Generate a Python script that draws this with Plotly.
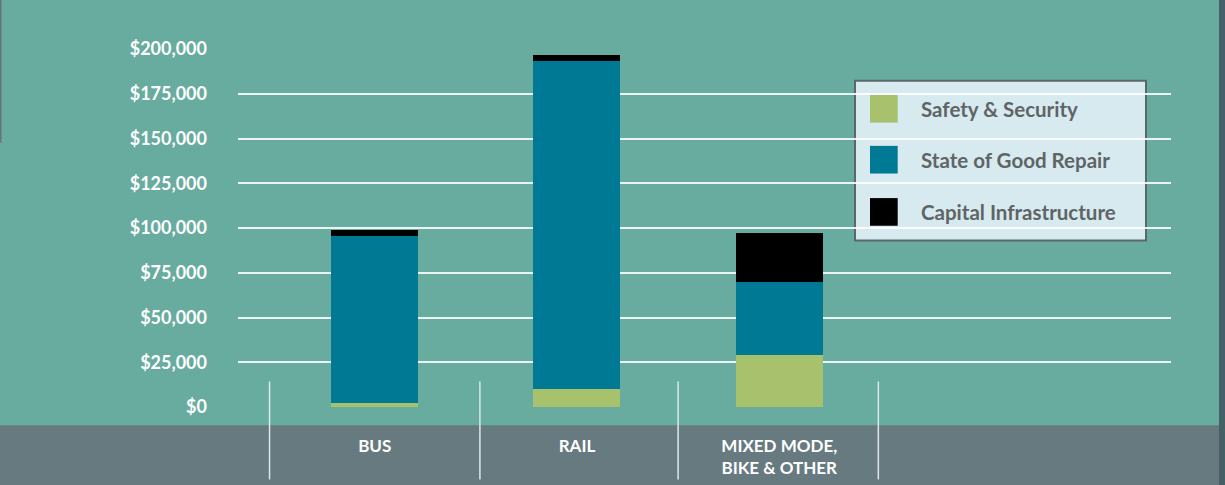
import plotly.graph_objects as go

# ---- data ----
categories = ["BUS", "RAIL", "MIXED MODE,<br>BIKE & OTHER"]
series_names = ["Safety & Security", "State of Good Repair", "Capital Infrastructure"]
safety_security = [2000, 10300, 29000]
state_of_good_repair = [93700, 183000, 41000]
capital_infrastructure = [3300, 3400, 27400]
y_ticks = [0, 25000, 50000, 75000, 100000, 125000, 150000, 175000, 200000]

colors = ["#a7c16c", "#007a94", "#000000"]
series_values = [safety_security, state_of_good_repair, capital_infrastructure]

W, H = 1225, 485
L, R, T, B = 238, 1171, 49, 407.5  # plot area in px


def px_x(px):
    return (px - L) / (R - L)


def px_y(py):
    return (B - py) / (B - T)


fig = go.Figure()
for name, vals, col in zip(series_names, series_values, colors):
    fig.add_trace(go.Bar(x=categories, y=vals, name=name, marker_color=col,
                         marker_line_width=0, width=0.43, showlegend=False))

shapes = []
# bottom grey band
shapes.append(dict(type="rect", xref="paper", yref="paper", x0=-0.3, x1=1.2,
                   y0=px_y(H + 20), y1=px_y(425.7), fillcolor="#677a80",
                   line_width=0, layer="below"))
# right dark strip
shapes.append(dict(type="rect", xref="paper", yref="paper", x0=px_x(1219), x1=px_x(W + 20),
                   y0=px_y(H + 20), y1=px_y(-20), fillcolor="#46606a",
                   line_width=0, layer="below"))
# left thin strip
shapes.append(dict(type="rect", xref="paper", yref="paper", x0=px_x(-5), x1=px_x(1.5),
                   y0=px_y(143), y1=px_y(-20), fillcolor="#6a7476",
                   line_width=0, layer="below"))
# category separators
for xv in [-0.52, 0.52, 1.5, 2.49]:
    shapes.append(dict(type="line", xref="x", yref="paper", x0=xv, x1=xv,
                       y0=px_y(382), y1=px_y(480),
                       line=dict(color="#dce8e6", width=1.5), layer="above"))
# legend box
shapes.append(dict(type="rect", xref="paper", yref="paper", x0=px_x(855), x1=px_x(1146),
                   y0=px_y(240.7), y1=px_y(80.7), fillcolor="#d6eaef",
                   line=dict(color="#5d6668", width=2), layer="below"))

annotations = []
row_tops = [95, 146, 198.3]
for name, col, top in zip(series_names, colors, row_tops):
    shapes.append(dict(type="rect", xref="paper", yref="paper", x0=px_x(870), x1=px_x(897.7),
                       y0=px_y(top + 27.7), y1=px_y(top), fillcolor=col, line_width=0,
                       layer="below"))
    annotations.append(dict(text=name, xref="paper", yref="paper", x=px_x(919),
                            y=px_y(top + 14), xanchor="left", yanchor="middle",
                            showarrow=False,
                            font=dict(family="Lato", size=20.5, color="#5f6466", weight=700)))

fig.update_layout(
    width=W, height=H,
    margin=dict(l=L, r=W - R, t=T, b=H - B, pad=0, autoexpand=False),
    paper_bgcolor="#67ac9f",
    plot_bgcolor="rgba(0,0,0,0)",
    barmode="stack",
    bargap=0,
    shapes=shapes,
    annotations=annotations,
    showlegend=False,
    xaxis=dict(range=[-0.676, 3.937], showgrid=False, zeroline=False, showline=False,
               ticks="", ticklabelstandoff=27, automargin=False,
               tickfont=dict(family="Lato", size=17, color="#ffffff", weight=700)),
    yaxis=dict(range=[0, 200000], tickvals=y_ticks, tickformat="$,",
               showgrid=True, gridcolor="rgba(255,255,255,0.88)", gridwidth=1.5,
               zeroline=False, showline=False, ticks="", ticklabelstandoff=30,
               automargin=False,
               tickfont=dict(family="Lato", size=18, color="#ffffff", weight=700)),
)

fig.write_html("out.html", config={"displayModeBar": False},
               post_script="document.body.style.margin='0';document.body.style.overflow='hidden';")
